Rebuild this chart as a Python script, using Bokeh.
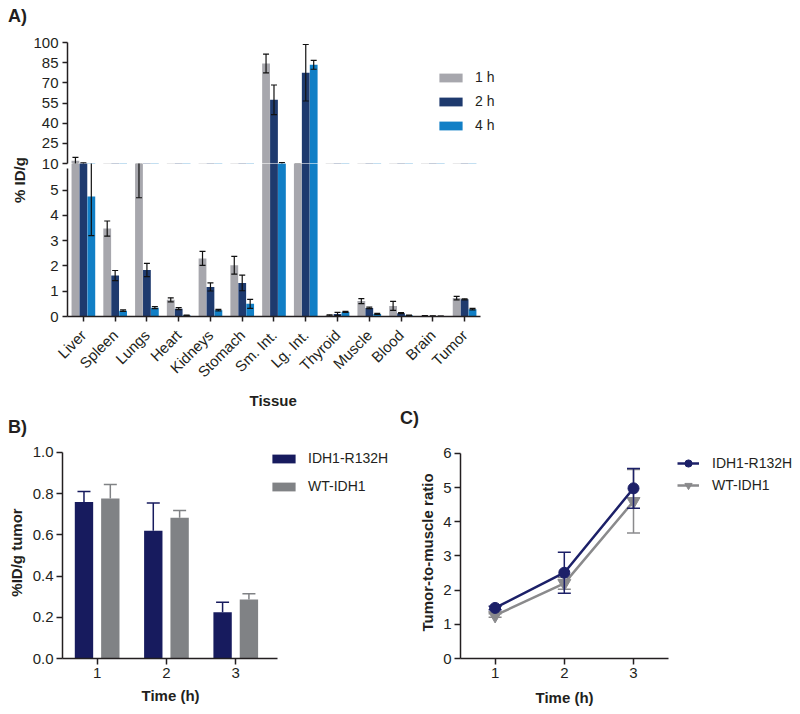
import math
import numpy as np
from bokeh.plotting import figure
from bokeh.models import (ColumnDataSource, Range1d, FixedTicker, Title,
                          Legend, LegendItem, Div, NumeralTickFormatter)
from bokeh.transform import dodge
from bokeh.layouts import row, column
from bokeh.embed import file_html
from bokeh.resources import INLINE

# ---------------- data ----------------
tissues = ["Liver", "Spleen", "Lungs", "Heart", "Kidneys", "Stomach", "Sm. Int.",
           "Lg. Int.", "Thyroid", "Muscle", "Blood", "Brain", "Tumor"]
mean_1h = [12.0, 3.48, 7.0, 0.66, 2.30, 2.03, 84.4, 9.0, 0.05, 0.61, 0.42, 0.03, 0.73]
sd_1h   = [2.5, 0.30, 2.3, 0.08, 0.28, 0.35, 7.0, 0.5, 0.02, 0.10, 0.18, 0.01, 0.07]
mean_2h = [9.5, 1.62, 1.84, 0.31, 1.17, 1.33, 57.4, 77.5, 0.10, 0.34, 0.13, 0.02, 0.68]
sd_2h   = [1.0, 0.20, 0.26, 0.04, 0.16, 0.31, 11.0, 21.0, 0.06, 0.03, 0.02, 0.01, 0.02]
mean_4h = [4.75, 0.23, 0.35, 0.05, 0.25, 0.50, 9.8, 83.4, 0.18, 0.10, 0.05, 0.01, 0.29]
sd_4h   = [1.55, 0.03, 0.04, 0.01, 0.03, 0.18, 0.9, 3.3, 0.02, 0.02, 0.01, 0.005, 0.03]
time_labels = ["1 h", "2 h", "4 h"]
upper_ticks = [10, 25, 40, 55, 70, 85, 100]
lower_ticks = [0, 1, 2, 3, 4, 5]

time_h = [1, 2, 3]
groups = ["IDH1-R132H", "WT-IDH1"]
uptake_idh1 = [0.76, 0.62, 0.225]
uptake_idh1_sd = [0.05, 0.135, 0.048]
uptake_wt = [0.777, 0.683, 0.286]
uptake_wt_sd = [0.068, 0.035, 0.028]
uptake_ticks = [0, 0.2, 0.4, 0.6, 0.8, 1.0]
ratio_idh1 = [1.48, 2.51, 4.98]
ratio_idh1_sd = [0.05, 0.60, 0.58]
ratio_wt = [1.26, 2.20, 4.60]
ratio_wt_sd = [0.05, 0.17, 0.93]
ratio_ticks = [0, 1, 2, 3, 4, 5, 6]

# ---------------- style ----------------
FONT = "Liberation Sans"
TXT = "#231f20"
C1, C2, C4 = "#a7a7ad", "#1e3a6e", "#117fc6"
NAVY, GREY = "#171b5e", "#808285"
NAVY_C, GREY_C = "#1c2068", "#8a8a8c"


def style(p, tick_out=5, standoff=4):
    for ax in p.axis:
        ax.axis_line_color = TXT
        ax.axis_line_width = 1.5
        ax.major_tick_line_color = TXT
        ax.major_tick_line_width = 1.5
        ax.major_tick_in = 0
        ax.major_tick_out = tick_out
        ax.minor_tick_line_color = None
        ax.major_label_standoff = standoff
        ax.major_label_text_font = FONT
        ax.major_label_text_font_size = "15px"
        ax.major_label_text_color = TXT
        ax.axis_label_text_font = FONT
        ax.axis_label_text_font_size = "15px"
        ax.axis_label_text_font_style = "bold"
        ax.axis_label_text_color = TXT
    p.xgrid.grid_line_color = None
    p.ygrid.grid_line_color = None
    p.outline_line_color = None


def legend_style(lg):
    lg.label_text_font = FONT
    lg.label_text_font_size = "14px"
    lg.label_text_color = TXT
    lg.border_line_color = None
    lg.background_fill_alpha = 0
    lg.padding = 0
    lg.margin = 0


def xlabel(p, text, offset, standoff):
    p.add_layout(Title(text=text, align="left", offset=offset, standoff=standoff,
                       text_font=FONT, text_font_size="15px", text_font_style="bold",
                       text_color=TXT), "below")


lo = lambda m, s: list(np.array(m) - np.array(s))
hi = lambda m, s: list(np.array(m) + np.array(s))

# ---------------- panel A (broken axis: two stacked frames) ----------------
pos = list(range(len(tissues)))
srcA = ColumnDataSource(dict(
    x=pos,
    m1=mean_1h, l1=lo(mean_1h, sd_1h), h1=hi(mean_1h, sd_1h),
    m2=mean_2h, l2=lo(mean_2h, sd_2h), h2=hi(mean_2h, sd_2h),
    m4=mean_4h, l4=lo(mean_4h, sd_4h), h4=hi(mean_4h, sd_4h),
))
xr = Range1d(-0.5, 13.76)


def draw_bars(p):
    rs = []
    for key, off, col in (("1", -0.25, C1), ("2", 0.0, C2), ("4", 0.25, C4)):
        x = dodge("x", off)
        r = p.vbar(x=x, top="m" + key, bottom=0, width=0.245, source=srcA,
                   fill_color=col, line_color=None)
        rs.append(r)
        p.segment(x0=x, y0="l" + key, x1=x, y1="h" + key, source=srcA,
                  line_color="#111111", line_width=1.2)
        for end in ("l", "h"):
            p.scatter(x=x, y=end + key, marker="dash", size=6, source=srcA,
                      line_color="#111111", line_width=1.2)
    return rs


upper = figure(x_range=xr, y_range=Range1d(10, 100), width=495, height=172,
               min_border_left=37, min_border_right=5, min_border_top=42,
               min_border_bottom=9, x_axis_location=None,
               output_backend="svg", toolbar_location=None)
rsA = draw_bars(upper)
style(upper)
upper.yaxis.ticker = FixedTicker(ticks=upper_ticks)
legA = Legend(items=[LegendItem(label=t, renderers=[r]) for t, r in zip(time_labels, rsA)],
              location=(369, 30), glyph_width=29, glyph_height=11,
              label_height=11, spacing=8, label_standoff=10)
legend_style(legA)
upper.add_layout(legA)

lower = figure(x_range=xr, y_range=Range1d(0, 6.055), width=495, height=245,
               min_border_left=37, min_border_right=5, min_border_top=0,
               min_border_bottom=90, output_backend="svg", toolbar_location=None,
               margin=(-9, 0, 0, 0))
lower.background_fill_alpha = 0
lower.border_fill_alpha = 0
draw_bars(lower)
style(lower)
lower.yaxis.ticker = FixedTicker(ticks=lower_ticks)
lower.yaxis.bounds = (0, 5.86)
lower.xaxis.ticker = FixedTicker(ticks=pos)
lower.xaxis.major_label_overrides = {i: t for i, t in zip(pos, tissues)}
lower.xaxis.bounds = (-0.5, 12.5)
lower.xaxis.major_label_orientation = math.pi / 4
lower.xaxis.major_label_standoff = 11
xlabel(lower, "Tissue", 182, 0)

side = Div(text=(
    '<div style="position:relative;width:30px;height:408px;">'
    '<div style="position:absolute;left:8px;top:6px;font:bold 18px \'Liberation Sans\';color:#231f20;">A)</div>'
    '<div style="position:absolute;left:19px;top:180px;transform:translate(-50%,-50%) rotate(-90deg);'
    'white-space:nowrap;font:bold 15px \'Liberation Sans\';color:#231f20;">% ID/g</div></div>'),
    width=30, height=408, margin=0)

letters = Div(text=(
    '<div style="position:relative;width:800px;height:30px;">'
    '<div style="position:absolute;left:8px;top:9px;line-height:20px;font:bold 18px \'Liberation Sans\';color:#231f20;">B)</div>'
    '<div style="position:absolute;left:400px;top:0px;line-height:20px;font:bold 18px \'Liberation Sans\';color:#231f20;">C)</div>'
    '</div>'), width=800, height=30, margin=0)

# ---------------- panel B ----------------
srcB = ColumnDataSource(dict(
    t=time_h, a=uptake_idh1, ah=hi(uptake_idh1, uptake_idh1_sd),
    w=uptake_wt, wh=hi(uptake_wt, uptake_wt_sd)))
pB = figure(x_range=Range1d(0.5, 5.305), y_range=Range1d(0, 1.029), width=400, height=276,
            min_border_left=62, min_border_right=5, min_border_top=8, min_border_bottom=56,
            output_backend="svg", toolbar_location=None)
rB = []
for key, off, col in (("a", -0.19, NAVY), ("w", 0.19, GREY)):
    x = dodge("t", off)
    r = pB.vbar(x=x, top=key, bottom=0, width=0.265, source=srcB, fill_color=col, line_color=None)
    rB.append(r)
    pB.segment(x0=x, y0=key, x1=x, y1=key + "h", source=srcB, line_color=col, line_width=1.5)
    pB.scatter(x=x, y=key + "h", marker="dash", size=13, source=srcB, line_color=col, line_width=1.5)
style(pB, tick_out=6, standoff=3)
pB.xaxis.ticker = FixedTicker(ticks=time_h)
pB.xaxis.bounds = (0.5, 3.6)
pB.yaxis.ticker = FixedTicker(ticks=uptake_ticks)
pB.yaxis.bounds = (0, 1.0)
pB.yaxis.formatter = NumeralTickFormatter(format="0.0")
pB.yaxis.axis_label = "%ID/g tumor"
pB.yaxis.axis_label_standoff = 5
xlabel(pB, "Time (h)", 79, 8)
legB = Legend(items=[LegendItem(label=g, renderers=[r]) for g, r in zip(groups, rB)],
              location=(207, 164), glyph_width=29, glyph_height=11,
              label_height=11, spacing=12, label_standoff=10)
legend_style(legB)
pB.add_layout(legB)

# ---------------- panel C ----------------
srcC = ColumnDataSource(dict(
    t=time_h, a=ratio_idh1, al=lo(ratio_idh1, ratio_idh1_sd), ah=hi(ratio_idh1, ratio_idh1_sd),
    w=ratio_wt, wl=lo(ratio_wt, ratio_wt_sd), wh=hi(ratio_wt, ratio_wt_sd)))
pC = figure(x_range=Range1d(0.5, 5.413), y_range=Range1d(0, 6.204), width=400, height=276,
            min_border_left=60, min_border_right=0, min_border_top=8, min_border_bottom=55,
            output_backend="svg", toolbar_location=None)
items = []
for key, col, mk, sz in (("w", GREY_C, "inverted_triangle", 13), ("a", NAVY_C, "circle", 11)):
    pC.segment(x0="t", y0=key + "l", x1="t", y1=key + "h", source=srcC, line_color=col, line_width=1.5)
    for end in ("l", "h"):
        pC.scatter(x="t", y=key + end, marker="dash", size=13, source=srcC, line_color=col, line_width=1.5)
    ln = pC.line(x="t", y=key, source=srcC, line_color=col, line_width=2.5)
    sc = pC.scatter(x="t", y=key, source=srcC, marker=mk, size=sz, fill_color=col, line_color=col)
    items.append((ln, sc))
style(pC, tick_out=6, standoff=3)
pC.xaxis.ticker = FixedTicker(ticks=time_h)
pC.xaxis.bounds = (0.5, 3.5)
pC.yaxis.ticker = FixedTicker(ticks=ratio_ticks)
pC.yaxis.bounds = (0, 6)
pC.yaxis.axis_label = "Tumor-to-muscle ratio"
pC.yaxis.axis_label_standoff = 4
xlabel(pC, "Time (h)", 75, 13)
legC = Legend(items=[LegendItem(label=groups[0], renderers=list(items[1])),
                     LegendItem(label=groups[1], renderers=list(items[0]))],
              location=(217, 164), glyph_width=22, glyph_height=18,
              label_height=18, spacing=4, label_standoff=13)
legend_style(legC)
pC.add_layout(legC)

layout = column(row(side, column(upper, lower)), letters, row(pB, pC))
open("out.html", "w").write(file_html(layout, INLINE))
